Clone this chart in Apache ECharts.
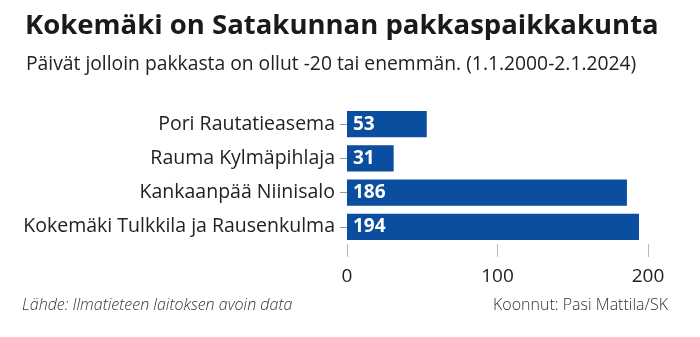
<!DOCTYPE html>
<html><head><meta charset="utf-8">
<script src="https://cdn.jsdelivr.net/npm/echarts@6/dist/echarts.min.js"></script>
<style>html,body{margin:0;padding:0;background:#fff}#c{width:700px;height:337px}</style>
</head><body><div id="c"></div>
<script>
const categories = ["Pori Rautatieasema", "Rauma Kylmäpihlaja", "Kankaanpää Niinisalo", "Kokemäki Tulkkila ja Rausenkulma"];
const values = [53, 31, 186, 194];
const xTicks = [0, 100, 200];
const titleText = "Kokemäki on Satakunnan pakkaspaikkakunta";
const subtitleText = "Päivät jolloin pakkasta on ollut -20 tai enemmän. (1.1.2000-2.1.2024)";
const sourceText = "Lähde: Ilmatieteen laitoksen avoin data";
const creditText = "Koonnut: Pasi Mattila/SK";

const chart = echarts.init(document.getElementById('c'), null, {renderer: 'canvas'});
const F = '"Open Sans", Roboto, sans-serif';
chart.setOption({
  animation: false,
  textStyle: {fontFamily: F},
  title: [
    {text: titleText, left: 20, top: 7, textStyle: {fontFamily: F, fontSize: 27.5, fontWeight: 'bold', color: '#1a1a1a'}},
    {text: subtitleText, left: 21, top: 50, textStyle: {fontFamily: F, fontSize: 19.3, fontWeight: 'normal', color: '#222'}}
  ],
  graphic: [
    {type: 'text', left: 22, top: 297, style: {text: sourceText, font: 'italic 300 16px ' + F, fill: '#333'}},
    {type: 'text', right: 32, top: 297, style: {text: creditText, font: '300 16px ' + F, fill: '#333'}}
  ],
  grid: {left: 347, right: 52, top: 107, bottom: 93, containLabel: false},
  xAxis: {
    type: 'value', min: xTicks[0], max: xTicks[xTicks.length - 1], interval: 100,
    axisLine: {show: false},
    axisTick: {show: true, length: 13, lineStyle: {color: '#bbb'}},
    splitLine: {show: false},
    axisLabel: {fontSize: 19, color: '#222', margin: 23, fontFamily: F}
  },
  yAxis: {
    type: 'category', data: categories, inverse: true,
    axisLine: {show: false},
    axisTick: {show: true, alignWithLabel: true, length: 7, lineStyle: {color: '#999'}},
    axisLabel: {fontSize: 19.5, color: '#222', margin: 12, fontFamily: F}
  },
  series: [{
    type: 'bar', data: values, barCategoryGap: '24%',
    itemStyle: {color: '#0b4d9f'},
    label: {show: true, position: 'insideLeft', distance: 6, color: '#fff', fontSize: 19, fontWeight: 'bold', fontFamily: F}
  }]
});
</script></body></html>
